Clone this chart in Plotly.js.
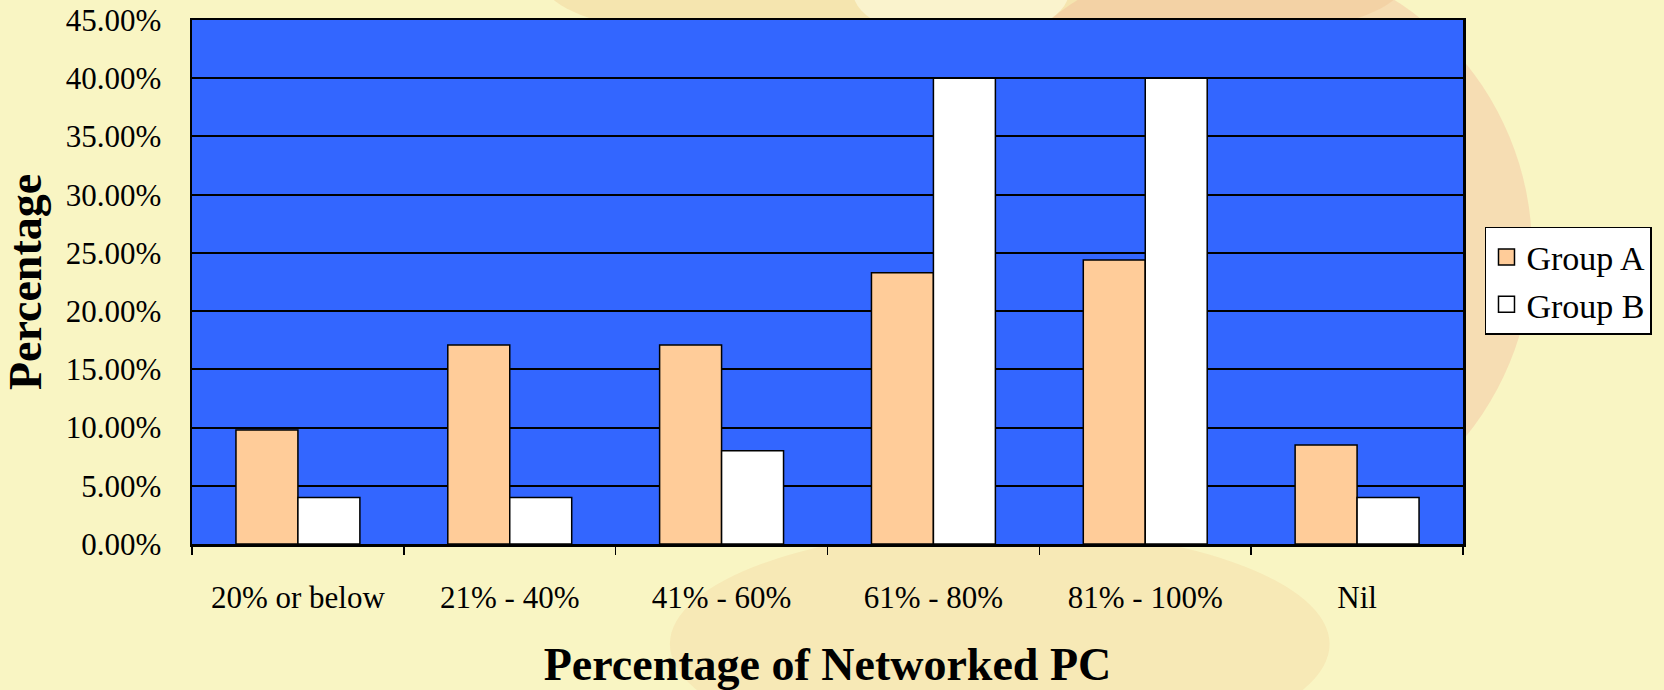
<!DOCTYPE html>
<html>
<head>
<meta charset="utf-8">
<script src="https://cdn.plot.ly/plotly-3.0.1.min.js"></script>
<style>
html,body{margin:0;padding:0;background:#f9f5c3;}
#chart{width:1664px;height:690px;}
</style>
</head>
<body>
<div id="chart"></div>
<script>
const categories = ["20% or below", "21% - 40%", "41% - 60%", "61% - 80%", "81% - 100%", "Nil"];
const groupA = [9.8, 17.1, 17.1, 23.3, 24.4, 8.5];
const groupB = [4.0, 4.0, 8.0, 40.0, 40.0, 4.0];
const yTickVals = [0, 5, 10, 15, 20, 25, 30, 35, 40, 45];
const seriesNames = ["Group A", "Group B"];
const seriesColors = ["#ffcc99", "#ffffff"];

const serif = "'Liberation Serif', 'Times New Roman', serif";

const traces = [
  {type: "bar", name: seriesNames[0], legendgroup: "a", showlegend: false, x: categories, y: groupA,
   marker: {color: seriesColors[0], line: {color: "#000", width: 1.5}}},
  {type: "bar", name: seriesNames[1], legendgroup: "b", showlegend: false, x: categories, y: groupB,
   marker: {color: seriesColors[1], line: {color: "#000", width: 1.5}}},
  // legend entries (square swatches, no data drawn)
  {type: "scatter", mode: "markers", name: seriesNames[0], legendgroup: "a", x: [null], y: [null],
   marker: {symbol: "square", size: 20, color: seriesColors[0], line: {color: "#000", width: 1.5}}},
  {type: "scatter", mode: "markers", name: seriesNames[1], legendgroup: "b", x: [null], y: [null],
   marker: {symbol: "square", size: 20, color: seriesColors[1], line: {color: "#000", width: 1.5}}}
];

const bgShapes = [
  // soft decorative swirl behind the chart
  {type: "circle", xref: "paper", yref: "paper", layer: "below",
   x0: 0.28, x1: 0.95, y0: 0.93, y1: 1.19,
   fillcolor: "rgba(238,185,125,0.28)", line: {width: 0}},
  {type: "circle", xref: "paper", yref: "paper", layer: "below",
   x0: 0.52, x1: 0.69, y0: 0.96, y1: 1.15,
   fillcolor: "rgba(253,251,225,0.6)", line: {width: 0}},
  {type: "circle", xref: "paper", yref: "paper", layer: "below",
   x0: 0.5885, x1: 1.0543, y0: -0.004, y1: 1.126,
   fillcolor: "rgba(238,170,145,0.32)", line: {width: 0}},
  {type: "circle", xref: "paper", yref: "paper", layer: "below",
   x0: 0.376, x1: 0.895, y0: -0.412, y1: 0.03,
   fillcolor: "rgba(240,185,130,0.20)", line: {width: 0}},
  // plot area background
  {type: "rect", xref: "paper", yref: "paper", layer: "below",
   x0: 0, x1: 1, y0: 0, y1: 1,
   fillcolor: "#3366ff", line: {width: 0}}
];

const layout = {
  width: 1664, height: 690,
  margin: {l: 192, r: 201, t: 20, b: 146},
  paper_bgcolor: "#f9f5c3",
  plot_bgcolor: "rgba(0,0,0,0)",
  barmode: "group", bargap: 0.415, bargroupgap: 0,
  font: {family: serif, color: "#000", size: 30},
  shapes: bgShapes,
  xaxis: {
    type: "category", categoryarray: categories, categoryorder: "array",
    showline: true, linecolor: "#000", linewidth: 2.5, mirror: true,
    ticks: "outside", tickson: "boundaries", ticklen: 8, tickcolor: "#000", tickwidth: 1.5,
    ticklabelstandoff: 24,
    tickfont: {family: serif, size: 31, color: "#000"},
    title: {text: "Percentage of Networked PC", font: {family: serif, size: 46, color: "#000", weight: "bold"}, standoff: 36},
    automargin: false
  },
  yaxis: {
    range: [0, 45], tickvals: yTickVals, ticktext: yTickVals.map(v => v.toFixed(2) + "%"),
    showline: true, linecolor: "#000", linewidth: 2.5, mirror: true,
    showgrid: true, gridcolor: "#000", gridwidth: 2,
    ticks: "", ticklabelstandoff: 22,
    tickfont: {family: serif, size: 31, color: "#000"},
    title: {text: "Percentage", font: {family: serif, size: 46, color: "#000", weight: "bold"}, standoff: 12},
    automargin: false, zeroline: false
  },
  legend: {
    x: 1.0173, xanchor: "left", y: 0.502, yanchor: "middle",
    bgcolor: "#ffffff", bordercolor: "#000", borderwidth: 1.5,
    font: {family: serif, size: 34, color: "#000"},
    itemsizing: "trace", tracegroupgap: 0
  },
  showlegend: true
};

Plotly.newPlot("chart", traces, layout, {displayModeBar: false, staticPlot: true});
</script>
</body>
</html>
